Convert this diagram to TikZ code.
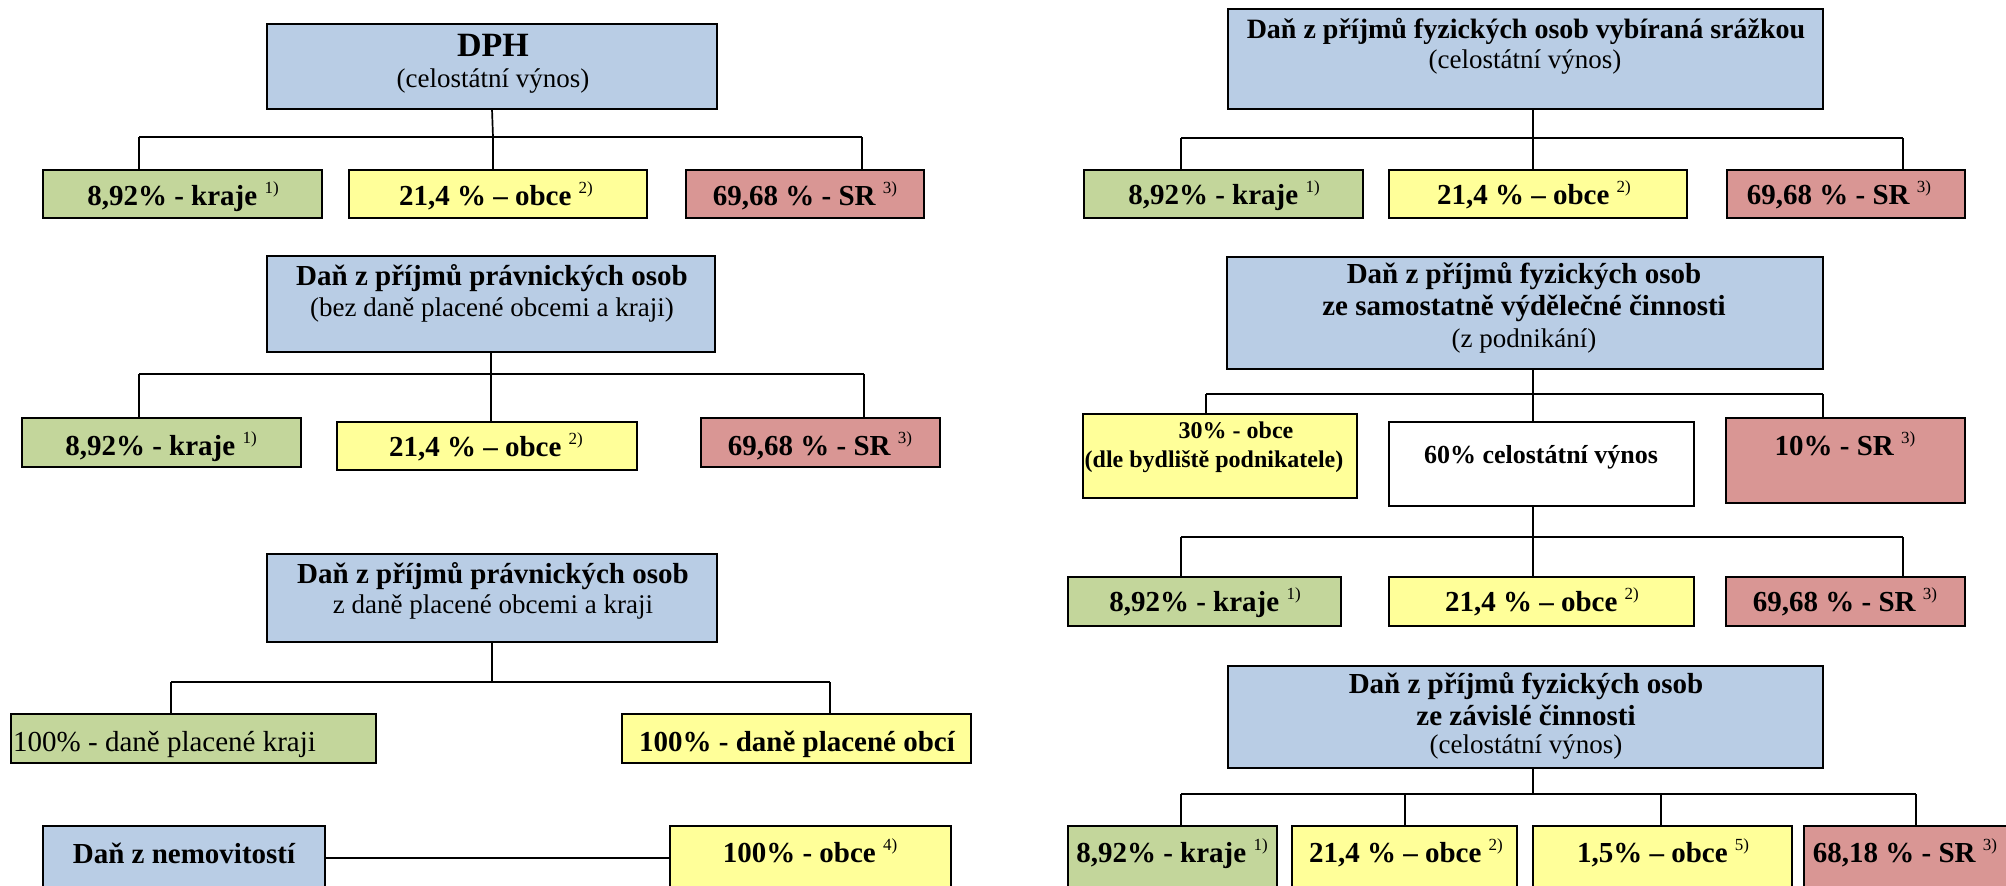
\documentclass[tikz,border=0pt]{standalone}
\usepackage{fontspec}
\setmainfont{Liberation Serif}
\definecolor{cblue}{HTML}{B9CDE5}
\definecolor{cgreen}{HTML}{C3D69B}
\definecolor{cyellow}{HTML}{FFFF99}
\definecolor{cred}{HTML}{D99694}
\newcommand\sups[1]{\raisebox{12pt}{\fontsize{17}{17}\mdseries\selectfont #1}}
\newcommand\mkbox[6]{%
  \pgfmathsetmacro\bw{#4-#2}\pgfmathsetmacro\bh{#5-#3}%
  \node[boxst, fill=#6, minimum width=\bw pt, minimum height=\bh pt] (#1) at ({(#2+#4)/2},{(#3+#5)/2}) {};}
\tikzset{
  boxst/.style={draw=black, line width=2.2pt, rectangle, inner sep=0pt, outer sep=0pt},
  conn/.style={line width=1.7pt, draw=black},
  bt/.style={font=\fontsize{29}{32}\bfseries\selectfont, anchor=base, inner sep=0pt},
  rt/.style={font=\fontsize{27}{30}\selectfont, anchor=base, inner sep=0pt},
  st/.style={font=\fontsize{24}{27}\bfseries\selectfont, anchor=base, inner sep=0pt},
}
\begin{document}
\begin{tikzpicture}[x=1pt,y=-1pt]
\useasboundingbox (0,0) rectangle (2006,886);

% ---------- DPH ----------
\mkbox{dph}{267}{24}{717}{109}{cblue}
\node[bt, font=\fontsize{34}{37}\bfseries\selectfont] (dpht1) at (493,56) {DPH};
\node[rt] (dpht2) at (493,87) {(celostátní výnos)};
\mkbox{ak}{43}{170}{322}{218}{cgreen}
\mkbox{ao}{349}{170}{647}{218}{cyellow}
\mkbox{as}{686}{170}{924}{218}{cred}
\node[bt] (akt) at (183,205) {8,92\% - kraje \sups{1)}};
\node[bt] (aot) at (496,205) {21,4 \% – obce \sups{2)}};
\node[bt] (ast) at (805,205) {69,68 \% - SR \sups{3)}};
\coordinate (aj1) at (139,137);
\coordinate (aj2) at (493,137);
\coordinate (aj3) at (862,137);
\draw[conn] (dph.south) -- (aj2);
\draw[conn] (aj1) -- (aj3);
\draw[conn] (aj1) -- (aj1 |- ak.north);
\draw[conn] (aj2) -- (aj2 |- ao.north);
\draw[conn] (aj3) -- (aj3 |- as.north);

% ---------- DPPO (bez) ----------
\mkbox{pa}{267}{256}{715}{352}{cblue}
\node[bt] (pat1) at (492,285) {Daň z příjmů právnických osob};
\node[rt] (pat2) at (492,316) {(bez daně placené obcemi a kraji)};
\mkbox{bk}{22}{418}{301}{467}{cgreen}
\mkbox{bo}{337}{422}{637}{470}{cyellow}
\mkbox{bs}{701}{418}{940}{467}{cred}
\node[bt] (bkt) at (161,455) {8,92\% - kraje \sups{1)}};
\node[bt] (bot) at (486,456) {21,4 \% – obce \sups{2)}};
\node[bt] (bst) at (820,455) {69,68 \% - SR \sups{3)}};
\coordinate (bj1) at (139,374);
\coordinate (bj2) at (491,374);
\coordinate (bj3) at (864,374);
\draw[conn] (pa.south) -- (bj2);
\draw[conn] (bj1) -- (bj3);
\draw[conn] (bj1) -- (bj1 |- bk.north);
\draw[conn] (bj2) -- (bj2 |- bo.north);
\draw[conn] (bj3) -- (bj3 |- bs.north);

% ---------- DPPO (z dane) ----------
\mkbox{pb}{267}{554}{717}{642}{cblue}
\node[bt] (pbt1) at (493,583) {Daň z příjmů právnických osob};
\node[rt] (pbt2) at (493,613) {z daně placené obcemi a kraji};
\mkbox{ck}{11}{714}{376}{763}{cgreen}
\mkbox{co}{622}{714}{971}{763}{cyellow}
\node[rt, font=\fontsize{29}{32}\selectfont, anchor=base west] (ckt) at (13,751) {100\% - daně placené kraji};
\node[bt] (cot) at (797,751) {100\% - daně placené obcí};
\coordinate (cj1) at (171,682);
\coordinate (cj2) at (492,682);
\coordinate (cj3) at (830,682);
\draw[conn] (pb.south) -- (cj2);
\draw[conn] (cj1) -- (cj3);
\draw[conn] (cj1) -- (cj1 |- ck.north);
\draw[conn] (cj3) -- (cj3 |- co.north);

% ---------- Dan z nemovitosti ----------
\mkbox{nem}{43}{826}{325}{890}{cblue}
\mkbox{nemo}{670}{826}{951}{890}{cyellow}
\node[bt] (nemt) at (184,863) {Daň z nemovitostí};
\node[bt] (nemot) at (810,862) {100\% - obce \sups{4)}};
\draw[conn] (nem.east) -- (nemo.west);

% ---------- DPFO srazkou ----------
\mkbox{sr}{1228}{9}{1823}{109}{cblue}
\node[bt, font=\fontsize{28}{31}\bfseries\selectfont] (srt1) at (1526,38) {Daň z příjmů fyzických osob vybíraná srážkou};
\node[rt] (srt2) at (1525,68) {(celostátní výnos)};
\mkbox{dk}{1084}{170}{1363}{218}{cgreen}
\mkbox{do}{1389}{170}{1687}{218}{cyellow}
\mkbox{ds}{1727}{170}{1965}{218}{cred}
\node[bt] (dkt) at (1224,204) {8,92\% - kraje \sups{1)}};
\node[bt] (dot) at (1534,204) {21,4 \% – obce \sups{2)}};
\node[bt] (dst) at (1839,204) {69,68 \% - SR \sups{3)}};
\coordinate (dj1) at (1181,138);
\coordinate (dj2) at (1533,138);
\coordinate (dj3) at (1903,138);
\draw[conn] (dj2 |- sr.south) -- (dj2);
\draw[conn] (dj1) -- (dj3);
\draw[conn] (dj1) -- (dj1 |- dk.north);
\draw[conn] (dj2) -- (dj2 |- do.north);
\draw[conn] (dj3) -- (dj3 |- ds.north);

% ---------- DPFO SVC ----------
\mkbox{sv}{1227}{257}{1823}{369}{cblue}
\node[bt] (svt1) at (1524,283) {Daň z příjmů fyzických osob};
\node[bt] (svt2) at (1524,315) {ze samostatně výdělečné činnosti};
\node[rt] (svt3) at (1524,347) {(z podnikání)};
\mkbox{e30}{1083}{414}{1357}{498}{cyellow}
\mkbox{e60}{1389}{422}{1694}{506}{white}
\mkbox{e10}{1726}{418}{1965}{503}{cred}
\node[st] (e30t1) at (1236,438) {30\% - obce};
\node[st] (e30t2) at (1214,467) {(dle bydliště podnikatele)};
\node[bt, font=\fontsize{26}{29}\bfseries\selectfont] (e60t) at (1541,463) {60\% celostátní výnos};
\node[bt] (e10t) at (1845,455) {10\% - SR \sups{3)}};
\coordinate (ej1) at (1206,394);
\coordinate (ej2) at (1533,394);
\coordinate (ej3) at (1823,394);
\draw[conn] (ej2 |- sv.south) -- (ej2);
\draw[conn] (ej1) -- (ej3);
\draw[conn] (ej1) -- (ej1 |- e30.north);
\draw[conn] (ej2) -- (ej2 |- e60.north);
\draw[conn] (ej3) -- (ej3 |- e10.north);
\mkbox{fk}{1068}{577}{1341}{626}{cgreen}
\mkbox{fo}{1389}{577}{1694}{626}{cyellow}
\mkbox{fs}{1726}{577}{1965}{626}{cred}
\node[bt] (fkt) at (1205,611) {8,92\% - kraje \sups{1)}};
\node[bt] (fot) at (1542,611) {21,4 \% – obce \sups{2)}};
\node[bt] (fst) at (1845,611) {69,68 \% - SR \sups{3)}};
\coordinate (fj1) at (1181,537);
\coordinate (fj2) at (1533,537);
\coordinate (fj3) at (1903,537);
\draw[conn] (fj2 |- e60.south) -- (fj2);
\draw[conn] (fj1) -- (fj3);
\draw[conn] (fj1) -- (fj1 |- fk.north);
\draw[conn] (fj2) -- (fj2 |- fo.north);
\draw[conn] (fj3) -- (fj3 |- fs.north);

% ---------- DPFO ZC ----------
\mkbox{zc}{1228}{666}{1823}{768}{cblue}
\node[bt] (zct1) at (1526,693) {Daň z příjmů fyzických osob};
\node[bt] (zct2) at (1526,725) {ze závislé činnosti};
\node[rt] (zct3) at (1526,753) {(celostátní výnos)};
\mkbox{gk}{1068}{826}{1277}{895}{cgreen}
\mkbox{go}{1292}{826}{1517}{895}{cyellow}
\mkbox{gp}{1533}{826}{1792}{895}{cyellow}
\mkbox{gs}{1804}{826}{2015}{895}{cred}
\node[bt] (gkt) at (1172,862) {8,92\% - kraje \sups{1)}};
\node[bt] (got) at (1406,862) {21,4 \% – obce \sups{2)}};
\node[bt] (gpt) at (1663,862) {1,5\% – obce \sups{5)}};
\node[bt] (gst) at (1905,862) {68,18 \% - SR \sups{3)}};
\coordinate (gj1) at (1181,794);
\coordinate (gj2) at (1405,794);
\coordinate (gjm) at (1533,794);
\coordinate (gj3) at (1661,794);
\coordinate (gj4) at (1916,794);
\draw[conn] (gjm |- zc.south) -- (gjm);
\draw[conn] (gj1) -- (gj4);
\draw[conn] (gj1) -- (gj1 |- gk.north);
\draw[conn] (gj2) -- (gj2 |- go.north);
\draw[conn] (gj3) -- (gj3 |- gp.north);
\draw[conn] (gj4) -- (gj4 |- gs.north);
\end{tikzpicture}
\end{document}
